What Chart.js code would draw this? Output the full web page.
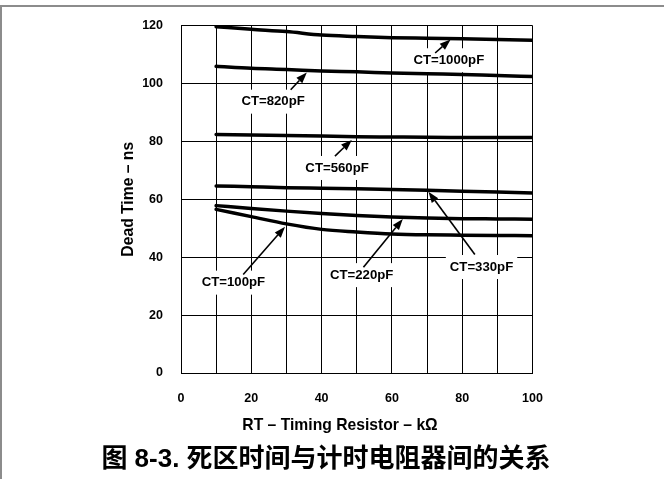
<!DOCTYPE html>
<html>
<head>
<meta charset="utf-8">
<script src="https://cdn.jsdelivr.net/npm/chart.js@4.4.0/dist/chart.umd.min.js"></script>
<style>
  html, body { margin: 0; padding: 0; background: #fff; }
  #wrap { position: relative; width: 664px; height: 479px; overflow: hidden; }
  #frame { position: absolute; left: 0; top: 5px; width: 664px; height: 474px;
           border-top: 2px solid #8c8c8c; border-left: 2px solid #8c8c8c; box-sizing: border-box; }
  #chart { position: absolute; left: 0; top: 0; }
  #caption { position: absolute; left: 0; top: 443px; width: 652px; text-align: center;
             font: bold 26px/31px "Liberation Sans", "Noto Sans CJK SC", sans-serif; color: #000; }
</style>
</head>
<body>
<div id="wrap">
  <div id="frame"></div>
  <canvas id="chart" width="664" height="479"></canvas>
  <div id="caption">图 8-3. 死区时间与计时电阻器间的关系</div>
</div>
<script>
// RT values (kOhm) shared by all curves
var rt = [10, 20, 30, 40, 50, 60, 70, 80, 90, 100];

// dead time (ns)
var ct1000 = [119.6, 118.7, 117.9, 116.7, 116.2, 115.8, 115.6, 115.4, 115.2, 114.9];
var ct820  = [105.9, 105.2, 104.8, 104.3, 104.0, 103.6, 103.3, 103.1, 102.7, 102.4];
var ct560  = [82.4, 82.2, 82.0, 81.8, 81.6, 81.5, 81.4, 81.35, 81.3, 81.3];
var ct330  = [64.6, 64.3, 64.0, 63.8, 63.6, 63.4, 63.1, 62.8, 62.5, 62.2];
var ct220  = [57.8, 56.8, 55.9, 55.1, 54.4, 53.9, 53.5, 53.3, 53.2, 53.1];
var ct100  = [56.5, 54.0, 51.5, 49.6, 48.7, 48.0, 47.7, 47.6, 47.5, 47.4];

var curveNames = ['CT=1000pF', 'CT=820pF', 'CT=560pF', 'CT=330pF', 'CT=220pF', 'CT=100pF'];
var curveValues = [ct1000, ct820, ct560, ct330, ct220, ct100];

// labelled ticks
var xTickLabels = [0, 20, 40, 60, 80, 100];
var yTickLabels = [0, 20, 40, 60, 80, 100, 120];

var FONT = '"Liberation Sans", Arial, sans-serif';

// callout text + arrow, anchored in data units
var notes = [
  { text: 'CT=1000pF', x: 76.2, y: 108.0, fromX: 72.3, fromY: 110.5, toX: 76.7, toY: 115.2 },
  { text: 'CT=820pF',  x: 26.2, y: 93.7,  fromX: 31.2, fromY: 97.8,  toX: 35.8, toY: 103.8 },
  { text: 'CT=560pF',  x: 44.4, y: 70.8,  fromX: 43.8, fromY: 74.9,  toX: 48.6, toY: 80.5 },
  { text: 'CT=330pF',  x: 85.5, y: 36.6,  fromX: 83.6, fromY: 40.9,  toX: 70.4, toY: 62.6 },
  { text: 'CT=220pF',  x: 51.4, y: 33.8,  fromX: 51.9, fromY: 36.5,  toX: 63.1, toY: 53.2 },
  { text: 'CT=100pF',  x: 14.9, y: 31.2,  fromX: 17.7, fromY: 34.0,  toX: 29.6, toY: 50.5 }
];

function drawArrow(ctx, x1, y1, x2, y2) {
  var a = Math.atan2(y2 - y1, x2 - x1);
  var len = 11, half = 4;
  var bx = x2 - len * Math.cos(a), by = y2 - len * Math.sin(a);
  ctx.beginPath();
  ctx.moveTo(x1, y1);
  ctx.lineTo(bx, by);
  ctx.stroke();
  ctx.beginPath();
  ctx.moveTo(x2, y2);
  ctx.lineTo(bx + half * Math.sin(a), by - half * Math.cos(a));
  ctx.lineTo(bx - half * Math.sin(a), by + half * Math.cos(a));
  ctx.closePath();
  ctx.fill();
}

var notesPlugin = {
  id: 'curveNotes',
  // white boxes behind the labels hide the grid, not the curves
  beforeDatasetsDraw: function (chart) {
    var ctx = chart.ctx, xs = chart.scales.x, ys = chart.scales.y;
    ctx.save();
    ctx.font = 'bold 13.2px ' + FONT;
    ctx.fillStyle = '#fff';
    notes.forEach(function (n) {
      var w = ctx.measureText(n.text).width;
      var cx = xs.getPixelForValue(n.x), cy = ys.getPixelForValue(n.y);
      ctx.fillRect(cx - w / 2 - 4, cy - 12, w + 8, 24);
    });
    ctx.restore();
  },
  afterDatasetsDraw: function (chart) {
    var ctx = chart.ctx, xs = chart.scales.x, ys = chart.scales.y;
    ctx.save();
    ctx.font = 'bold 13.2px ' + FONT;
    ctx.fillStyle = '#000';
    ctx.strokeStyle = '#000';
    ctx.lineWidth = 1.6;
    ctx.textAlign = 'center';
    ctx.textBaseline = 'middle';
    notes.forEach(function (n) {
      ctx.fillText(n.text, xs.getPixelForValue(n.x), ys.getPixelForValue(n.y));
      drawArrow(ctx, xs.getPixelForValue(n.fromX), ys.getPixelForValue(n.fromY),
                xs.getPixelForValue(n.toX), ys.getPixelForValue(n.toY));
    });
    ctx.restore();
  },
  // x axis title sits a little left of the plot centre in the original
  afterDraw: function (chart) {
    var ctx = chart.ctx, area = chart.chartArea;
    ctx.save();
    ctx.font = 'bold 15.7px ' + FONT;
    ctx.fillStyle = '#000';
    ctx.textAlign = 'center';
    ctx.textBaseline = 'middle';
    ctx.fillText('RT \u2013 Timing Resistor \u2013 k\u03A9', area.left + 159, area.bottom + 52.5);
    ctx.restore();
  }
};

var datasets = curveNames.map(function (name, i) {
  return {
    label: name,
    data: rt.map(function (r, j) { return { x: r, y: curveValues[i][j] }; }),
    borderColor: '#000',
    borderWidth: 3.5,
    borderCapStyle: 'round',
    pointRadius: 0,
    fill: false,
    cubicInterpolationMode: 'monotone'
  };
});

Chart.defaults.font.family = FONT;
Chart.defaults.color = '#000';

new Chart(document.getElementById('chart'), {
  type: 'line',
  data: { datasets: datasets },
  plugins: [notesPlugin],
  options: {
    responsive: false,
    animation: false,
    layout: { padding: { left: 0, top: 22.5, right: 131.5, bottom: 46 } },
    plugins: { legend: { display: false }, tooltip: { enabled: false } },
    scales: {
      x: {
        type: 'linear',
        min: 0,
        max: 100,
        afterFit: function (scale) { scale.height = 60; },
        grid: { color: '#000', lineWidth: 1, drawTicks: false },
        border: { color: '#000', width: 1 },
        ticks: {
          stepSize: 10,
          autoSkip: false,
          maxRotation: 0,
          padding: 18.5,
          font: { size: 12.5, weight: 'bold', lineHeight: 1.2 },
          callback: function (v) { return xTickLabels.indexOf(v) >= 0 ? v : ''; }
        }
      },
      y: {
        min: 0,
        max: 120,
        afterFit: function (scale) { scale.width = 181; },
        grid: { color: '#000', lineWidth: 1, drawTicks: false },
        border: { color: '#000', width: 1 },
        ticks: {
          stepSize: 20,
          padding: 18,
          font: { size: 12.5, weight: 'bold', lineHeight: 1.2 },
          callback: function (v) { return yTickLabels.indexOf(v) >= 0 ? v : ''; }
        },
        title: {
          display: true,
          text: 'Dead Time \u2013 ns',
          font: { size: 15.7, weight: 'bold', lineHeight: 1.2 },
          padding: { top: 119.6, bottom: 0 }
        }
      }
    }
  }
});
</script>
</body>
</html>
